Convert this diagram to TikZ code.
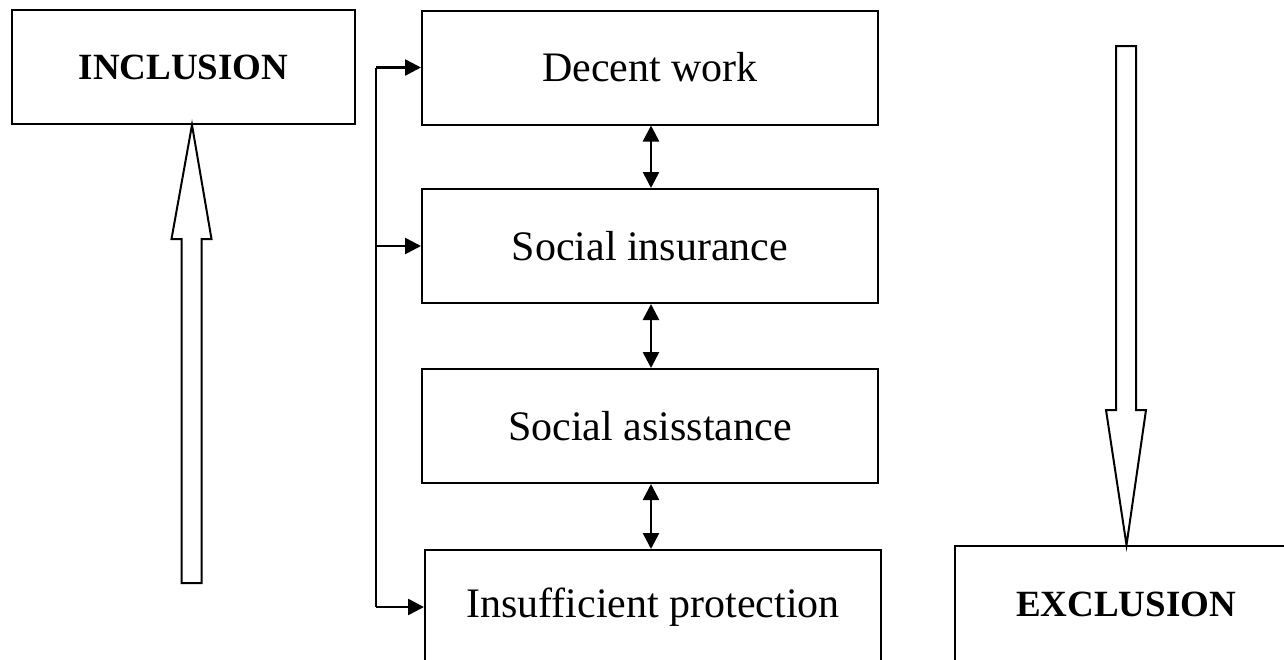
\documentclass[tikz,border=0pt]{standalone}
\usepackage{fontspec}
\setmainfont{Liberation Serif}
\usetikzlibrary{arrows.meta,calc}
\tikzset{
  level/.style={draw, line width=2pt, minimum width=456pt, minimum height=114pt,
    inner sep=0pt, font=\fontsize{42}{48}\selectfont},
  pole/.style={draw, line width=2pt, minimum height=114pt, inner sep=0pt,
    font=\fontsize{37}{44}\selectfont\bfseries},
  feed/.style={line width=2.6pt, -{Triangle[length=16pt,width=16pt]}},
  link/.style={line width=2.6pt, {Triangle[length=16pt,width=16pt]}-{Triangle[length=16pt,width=16pt]}},
  hollow/.style={draw, line width=2pt, fill=white, line join=miter}
}
\begin{document}
\begin{tikzpicture}[x=1pt,y=-1pt]
  \useasboundingbox (0,0) rectangle (1284,659);
  \clip (0,0) rectangle (1284,659);
  \fill[white] (0,0) rectangle (1284,659);

  % the two poles
  \node[pole, minimum width=343pt] (incl) at (183.5,67) {INCLUSION};
  \node[pole, minimum width=342pt, minimum height=116pt] (excl) at (1126,604) {EXCLUSION};

  % the ladder of protection levels
  \node[level] (work)   at (650,67.5) {Decent work};
  \node[level] (insur)  at (650,246)  {Social insurance};
  \node[level] (assist) at (650,426)  {Social asisstance};
  \node[level] (insuf)  at (653,607)  {Insufficient protection};

  % links between neighbouring levels
  \coordinate (axis) at (651,0);
  \draw[link] (axis |- work.south)   -- (axis |- insur.north);
  \draw[link] (axis |- insur.south)  -- (axis |- assist.north);
  \draw[link] (axis |- assist.south) -- (axis |- insuf.north);

  % feeder line on the left
  \coordinate (rail) at (376,0);
  \draw[line width=2.6pt] (rail |- work.west) -- (rail |- insuf.west);
  \draw[feed] (rail |- work.west)  -- (work.west);
  \draw[feed] (rail |- insur.west) -- (insur.west);
  \draw[feed] (rail |- insuf.west) -- (insuf.west);

  % hollow arrow up to inclusion
  \coordinate (uptip) at (incl.south -| 192,0);
  \draw[hollow] (uptip) -- ++(19.5,114) -- ++(-10,0) -- ++(0,344) -- ++(-20,0)
    -- ++(0,-344) -- ++(-10,0) -- cycle;

  % hollow arrow down to exclusion
  \coordinate (downtip) at (excl.north -| 1126.5,0);
  \draw[hollow] (downtip) -- ++(19.5,-135) -- ++(-10,0) -- ++(0,-364) -- ++(-20,0)
    -- ++(0,364) -- ++(-10,0) -- cycle;
\end{tikzpicture}
\end{document}
